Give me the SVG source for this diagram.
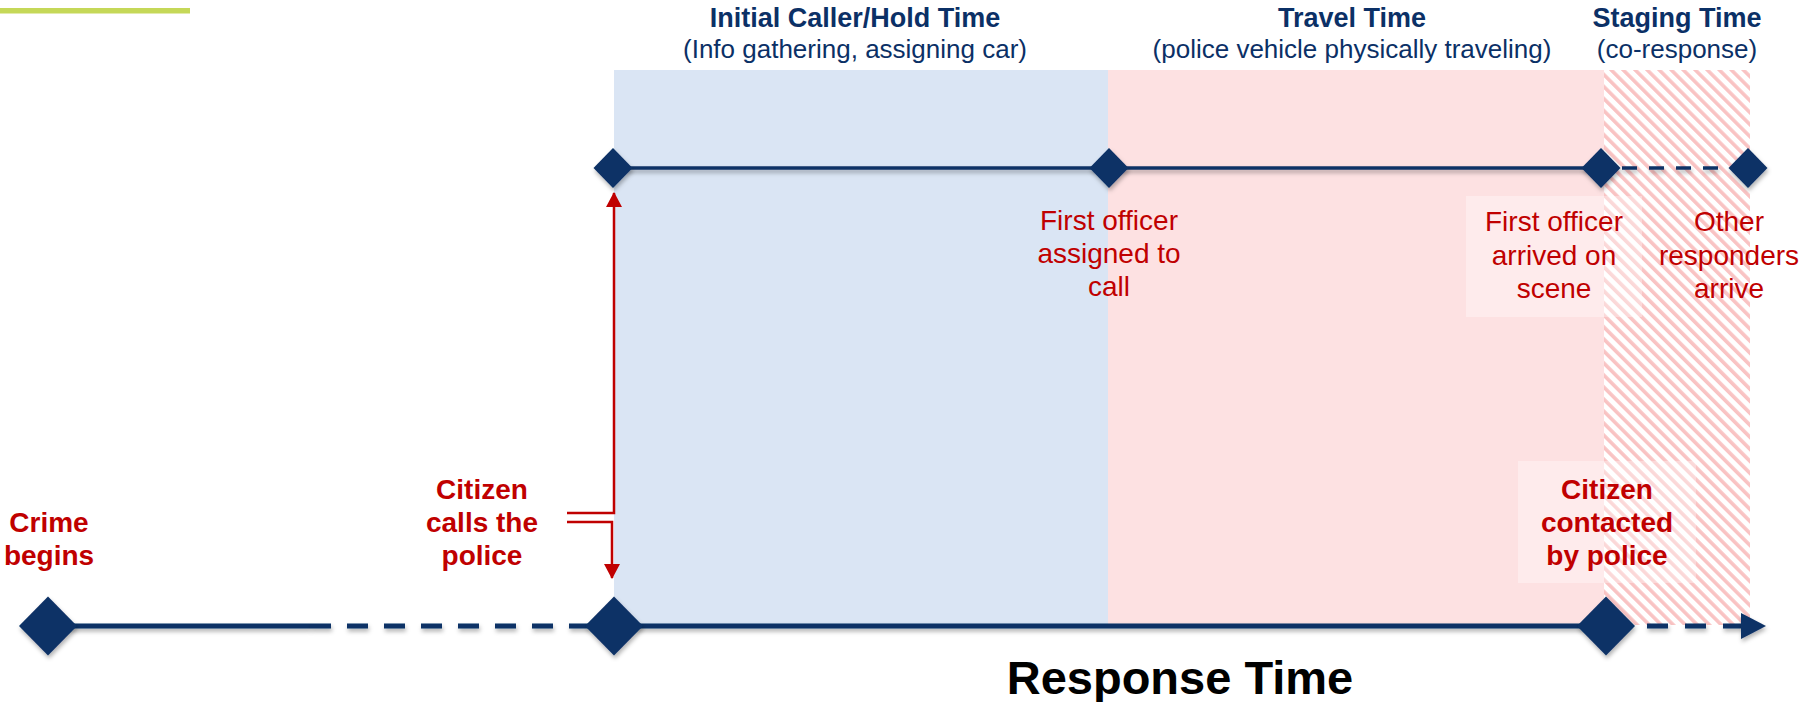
<svg xmlns="http://www.w3.org/2000/svg" width="1800" height="702" viewBox="0 0 1800 702">
  <defs>
    <pattern id="hatch" patternUnits="userSpaceOnUse" width="8.5" height="8.5" patternTransform="rotate(-45)">
      <rect x="0" y="0" width="8.5" height="8.5" fill="#ffffff"/>
      <rect x="0" y="0" width="3.6" height="8.5" fill="#f9c3c3"/>
    </pattern>
    <filter id="shadow" filterUnits="userSpaceOnUse" x="0" y="0" width="1800" height="702">
      <feDropShadow dx="1" dy="3" stdDeviation="2" flood-color="#000000" flood-opacity="0.3"/>
    </filter>
    <marker id="redArrow" viewBox="0 0 16 16" refX="14" refY="8" markerWidth="16" markerHeight="16" markerUnits="userSpaceOnUse" orient="auto">
      <path d="M0,0 L15,8 L0,16 Z" fill="#c00000"/>
    </marker>
    <style>
      .title { font-family: "Liberation Sans", Arial, sans-serif; font-weight: bold; font-size: 27px; fill: #0b3066; text-anchor: middle; }
      .sub { font-family: "Liberation Sans", Arial, sans-serif; font-size: 26px; fill: #0b3066; text-anchor: middle; }
      .lbl { font-family: "Liberation Sans", Arial, sans-serif; font-size: 28px; fill: #c00000; text-anchor: middle; }
      .lblb { font-family: "Liberation Sans", Arial, sans-serif; font-weight: bold; font-size: 28px; fill: #c00000; text-anchor: middle; }
      .big { font-family: "Liberation Sans", Arial, sans-serif; font-weight: bold; font-size: 47px; fill: #000000; text-anchor: middle; }
      .dia { fill: #0b3066; filter: url(#shadow); }
      .navy { stroke: #0b3066; fill: none; filter: url(#shadow); }
      .red { stroke: #c00000; stroke-width: 2.5; fill: none; }
      .glow { fill: #ffffff; fill-opacity: 0.35; }
    </style>
  </defs>

  <rect x="0" y="8" width="190" height="5.5" fill="#c5d858"/>

  <g id="phases">
    <rect id="phase-hold" x="614" y="70" width="494" height="555" fill="#dae5f4"/>
    <rect id="phase-travel" x="1108" y="70" width="496" height="555" fill="#fde1e2"/>
    <rect id="phase-staging" x="1604" y="70" width="146" height="555" fill="url(#hatch)"/>
  </g>

  <g id="headers">
    <text class="title" x="855" y="27">Initial Caller/Hold Time</text>
    <text class="sub" x="855" y="58">(Info gathering, assigning car)</text>
    <text class="title" x="1352" y="27">Travel Time</text>
    <text class="sub" x="1352" y="58">(police vehicle physically traveling)</text>
    <text class="title" x="1677" y="27">Staging Time</text>
    <text class="sub" x="1677" y="58">(co-response)</text>
  </g>

  <g id="connectors">
    <line class="navy" x1="613" y1="168" x2="1601" y2="168" stroke-width="3.5"/>
    <line class="navy" x1="1622" y1="168" x2="1730" y2="168" stroke-width="3.5" stroke-dasharray="15 12"/>
    <line class="navy" x1="48" y1="626" x2="310" y2="626" stroke-width="5"/>
    <line class="navy" x1="310" y1="626" x2="600" y2="626" stroke-width="5" stroke-dasharray="21 16"/>
    <line class="navy" x1="614" y1="626" x2="1606" y2="626" stroke-width="5"/>
    <line class="navy" x1="1647" y1="626" x2="1742" y2="626" stroke-width="5" stroke-dasharray="21 17"/>
    <path d="M1741,613 L1766,626 L1741,639 Z" fill="#0b3066" filter="url(#shadow)"/>
    <path class="red" d="M567,513 H614 V193" marker-end="url(#redArrow)"/>
    <path class="red" d="M567,522 H612 V578" marker-end="url(#redArrow)"/>
  </g>

  <g id="node-crime-begins">
    <polygon class="dia" points="48,596.5 77,626 48,655.5 19,626"/>
    <text class="lblb" x="49" y="532">Crime</text>
    <text class="lblb" x="49" y="565">begins</text>
  </g>

  <g id="node-citizen-calls">
    <polygon class="dia" points="614,596.5 643,626 614,655.5 585,626"/>
    <text class="lblb" x="482" y="499">Citizen</text>
    <text class="lblb" x="482" y="532">calls the</text>
    <text class="lblb" x="482" y="565">police</text>
  </g>

  <g id="node-call-start">
    <polygon class="dia" points="613,148 632.5,168 613,188 593.5,168"/>
  </g>

  <g id="node-officer-assigned">
    <polygon class="dia" points="1109,148 1128.5,168 1109,188 1089.5,168"/>
    <text class="lbl" x="1109" y="230">First officer</text>
    <text class="lbl" x="1109" y="263">assigned to</text>
    <text class="lbl" x="1109" y="296">call</text>
  </g>

  <g id="node-officer-arrived">
    <rect class="glow" x="1466" y="196" width="176" height="121"/>
    <polygon class="dia" points="1601,148 1620.5,168 1601,188 1581.5,168"/>
    <text class="lbl" x="1554" y="231">First officer</text>
    <text class="lbl" x="1554" y="265">arrived on</text>
    <text class="lbl" x="1554" y="298">scene</text>
  </g>

  <g id="node-other-responders">
    <polygon class="dia" points="1748,148 1767.5,168 1748,188 1728.5,168"/>
    <text class="lbl" x="1729" y="231">Other</text>
    <text class="lbl" x="1729" y="265">responders</text>
    <text class="lbl" x="1729" y="298">arrive</text>
  </g>

  <g id="node-citizen-contacted">
    <rect class="glow" x="1518" y="461" width="178" height="122"/>
    <polygon class="dia" points="1606,596.5 1635,626 1606,655.5 1577,626"/>
    <text class="lblb" x="1607" y="499">Citizen</text>
    <text class="lblb" x="1607" y="532">contacted</text>
    <text class="lblb" x="1607" y="565">by police</text>
  </g>

  <text class="big" x="1180" y="694">Response Time</text>
</svg>
